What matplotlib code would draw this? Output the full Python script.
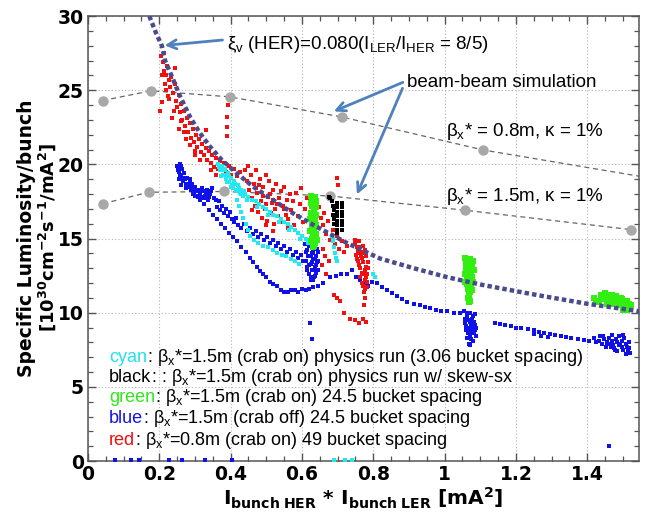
import numpy as np
import matplotlib
matplotlib.use("Agg")
import matplotlib.pyplot as plt
from matplotlib.ticker import MultipleLocator, FuncFormatter

plt.rcParams['mathtext.fontset'] = 'custom'
plt.rcParams['mathtext.rm'] = 'Liberation Sans'
plt.rcParams['mathtext.it'] = 'Liberation Sans'
plt.rcParams['mathtext.bf'] = 'DejaVu Sans:bold'

# beam-beam limit curve, xi_v(HER)=0.080
limit_x = [0.172, 0.19, 0.207, 0.216, 0.239, 0.258, 0.286, 0.314, 0.342, 0.375, 0.417,
           0.463, 0.519, 0.575, 0.633, 0.726, 0.819, 0.913, 1.006, 1.1, 1.2, 1.28, 1.4, 1.545]
limit_y = [30.0, 28.9, 28.0, 27.0, 25.7, 24.6, 23.2, 22.1, 21.2, 20.3, 19.4,
           18.5, 17.6, 16.7, 15.9, 14.7, 13.65, 13.0, 12.4, 11.9, 11.45, 11.1, 10.6, 10.1]

# beam-beam simulation
sim08_x = [0.041, 0.177, 0.398, 0.711, 1.108, 1.62]
sim08_y = [24.3, 24.96, 24.55, 23.2, 20.97, 18.9]
sim15_x = [0.042, 0.170, 0.380, 0.678, 1.056, 1.523]
sim15_y = [17.35, 18.12, 18.17, 17.87, 16.91, 15.6]

red_pts = [
    (0.205, 27.3), (0.210, 26.9), (0.214, 27.5), (0.212, 26.3), (0.218, 26.0), (0.222, 26.6),
    (0.226, 25.7), (0.216, 25.4), (0.230, 25.2), (0.234, 25.9), (0.238, 24.8), (0.224, 24.6),
    (0.244, 25.4), (0.246, 24.3), (0.250, 23.9), (0.254, 24.7), (0.258, 23.5), (0.262, 24.1),
    (0.265, 23.0), (0.270, 23.6), (0.272, 22.6), (0.278, 23.1), (0.281, 22.2), (0.286, 22.8),
    (0.290, 21.8), (0.294, 22.4), (0.298, 21.5), (0.303, 22.0), (0.307, 21.2), (0.312, 21.7),
    (0.316, 20.8), (0.320, 21.4), (0.325, 20.6), (0.330, 21.1), (0.334, 20.3), (0.339, 20.9),
    (0.344, 20.1), (0.349, 20.6), (0.354, 19.8), (0.359, 20.4), (0.364, 19.7), (0.370, 20.2),
    (0.376, 19.6), (0.382, 20.1), (0.388, 19.5), (0.395, 19.9), (0.402, 19.3), (0.410, 19.7),
    (0.418, 19.2), (0.426, 19.5),
    (0.208, 26.0), (0.219, 25.0), (0.228, 24.4), (0.240, 23.6), (0.260, 22.9), (0.268, 22.2),
    (0.276, 21.7), (0.285, 21.3), (0.300, 20.9), (0.315, 20.3), (0.345, 19.6), (0.360, 19.3),
    (0.203, 23.6), (0.207, 24.2), (0.236, 23.1), (0.255, 22.4), (0.390, 21.9), (0.391, 22.5),
    (0.390, 23.2), (0.392, 24.0), (0.300, 20.6), (0.245, 26.5), (0.330, 22.3),
    (0.440, 19.6), (0.445, 18.9), (0.450, 19.9), (0.452, 18.3), (0.458, 19.3), (0.460, 17.7),
    (0.465, 18.7), (0.468, 17.2), (0.472, 19.6), (0.475, 18.1), (0.478, 16.8), (0.482, 19.0),
    (0.485, 17.5), (0.488, 16.4), (0.492, 18.5), (0.495, 17.0), (0.498, 19.3), (0.502, 16.2),
    (0.505, 17.8), (0.508, 18.9), (0.512, 16.7), (0.515, 17.4), (0.518, 18.3), (0.522, 16.0),
    (0.525, 17.0), (0.528, 18.7), (0.532, 16.5), (0.535, 17.7), (0.540, 18.2), (0.543, 16.1),
    (0.546, 17.2), (0.550, 18.5), (0.554, 16.6), (0.558, 17.6), (0.562, 15.7), (0.566, 18.0),
    (0.570, 16.9), (0.574, 17.5), (0.578, 15.9), (0.584, 18.1), (0.588, 16.5), (0.594, 17.3),
    (0.598, 18.4), (0.603, 16.1), (0.608, 17.0), (0.614, 17.7), (0.619, 16.4), (0.625, 17.2),
    (0.470, 18.4), (0.490, 17.9), (0.510, 18.0), (0.520, 17.6), (0.530, 17.3), (0.550, 17.0),
    (0.480, 18.6), (0.500, 17.3), (0.560, 16.3), (0.460, 16.9), (0.500, 15.9), (0.520, 15.5),
    (0.648, 17.1), (0.652, 16.4), (0.658, 15.9), (0.663, 16.7), (0.668, 15.3), (0.673, 16.2),
    (0.679, 14.9), (0.686, 15.6), (0.692, 14.6), (0.699, 15.2), (0.705, 14.3), (0.712, 14.8),
    (0.719, 14.1), (0.726, 14.5), (0.697, 19.1), (0.701, 18.6), (0.660, 14.3), (0.665, 13.8),
    (0.676, 13.5), (0.655, 13.2), (0.668, 12.6),
    (0.748, 14.9), (0.754, 14.4), (0.760, 14.8), (0.766, 14.1), (0.772, 14.5), (0.779, 13.8),
    (0.786, 13.4), (0.751, 13.9), (0.758, 13.5), (0.764, 13.0), (0.770, 13.4), (0.776, 12.9),
    (0.783, 12.6), (0.762, 12.4), (0.769, 12.0), (0.776, 12.2), (0.781, 11.7), (0.774, 11.4),
    (0.778, 11.0), (0.775, 10.5), (0.757, 14.2), (0.768, 13.7), (0.780, 13.1),
    (0.750, 14.6), (0.756, 14.0), (0.763, 14.4), (0.770, 14.0), (0.777, 14.2), (0.784, 13.0),
    (0.753, 13.6), (0.761, 13.2), (0.767, 12.7), (0.773, 12.6), (0.779, 12.4), (0.771, 11.8),
    (0.777, 11.6), (0.765, 13.8), (0.782, 12.1),
    (0.690, 11.2), (0.698, 11.0), (0.706, 10.8), (0.717, 10.0), (0.735, 9.6), (0.748, 9.5),
    (0.760, 9.3), (0.772, 9.6), (0.779, 9.4),
]

blue_pts = [
    (0.250, 19.9), (0.254, 19.5), (0.258, 20.0), (0.260, 19.2), (0.264, 19.7), (0.267, 18.9),
    (0.270, 19.4), (0.274, 18.7), (0.278, 19.1), (0.281, 18.5), (0.285, 18.9), (0.289, 18.3),
    (0.293, 18.7), (0.297, 18.1), (0.301, 18.5), (0.306, 17.9), (0.311, 18.3), (0.316, 17.8),
    (0.322, 18.2), (0.328, 17.9), (0.334, 18.3), (0.340, 17.8), (0.346, 18.2), (0.352, 17.7),
    (0.256, 19.0), (0.262, 18.6),
    (0.252, 19.6), (0.257, 19.3), (0.262, 19.9), (0.266, 19.1), (0.272, 19.0), (0.276, 18.4),
    (0.283, 18.7), (0.287, 19.0), (0.291, 18.4), (0.295, 18.0), (0.299, 18.3), (0.304, 18.2),
    (0.309, 17.8), (0.314, 18.0), (0.319, 18.4), (0.325, 17.7), (0.331, 18.1), (0.337, 17.6),
    (0.343, 18.0), (0.349, 18.4),
    (0.358, 17.6), (0.362, 17.1), (0.366, 17.5), (0.370, 16.9), (0.375, 17.2), (0.380, 16.7),
    (0.386, 17.0), (0.392, 16.5), (0.398, 16.8), (0.404, 16.3), (0.410, 16.1), (0.416, 16.4),
    (0.422, 15.9), (0.430, 15.7), (0.438, 16.0), (0.446, 15.5), (0.454, 15.7), (0.462, 15.3),
    (0.470, 15.5), (0.478, 15.1), (0.486, 15.3), (0.494, 14.9), (0.502, 15.1), (0.510, 14.7),
    (0.518, 14.9), (0.526, 14.5), (0.534, 14.7), (0.542, 14.3), (0.550, 14.5), (0.558, 14.1),
    (0.566, 14.3), (0.574, 13.9), (0.582, 14.1), (0.590, 13.7), (0.598, 13.9), (0.604, 13.5),
    (0.609, 14.6), (0.615, 14.2), (0.621, 14.5), (0.627, 14.0), (0.633, 14.4), (0.640, 13.8),
    (0.645, 14.1), (0.612, 13.5), (0.618, 13.8), (0.624, 13.3), (0.630, 13.6), (0.636, 13.1),
    (0.642, 13.4), (0.615, 12.9), (0.621, 12.6), (0.627, 12.9), (0.633, 12.4), (0.639, 12.7),
    (0.645, 12.9), (0.626, 12.2),
    (0.612, 14.1), (0.618, 14.6), (0.624, 13.8), (0.630, 14.1), (0.636, 13.6), (0.642, 14.3),
    (0.613, 13.1), (0.619, 13.2), (0.627, 13.4), (0.633, 12.9), (0.639, 13.2), (0.645, 13.5),
    (0.624, 12.4), (0.630, 12.2), (0.636, 12.5),
    (0.300, 17.9), (0.314, 17.6), (0.326, 17.3), (0.338, 16.9), (0.350, 16.6), (0.361, 16.3),
    (0.372, 16.0), (0.384, 15.7), (0.396, 15.4), (0.407, 15.1), (0.418, 14.8), (0.430, 14.4),
    (0.442, 14.1), (0.454, 13.7), (0.464, 13.4), (0.474, 13.1), (0.483, 12.8), (0.491, 12.6),
    (0.500, 12.4), (0.510, 12.1), (0.520, 11.9), (0.529, 11.8), (0.540, 11.5), (0.550, 11.4),
    (0.560, 11.4), (0.570, 11.5), (0.580, 11.5), (0.590, 11.4), (0.600, 11.6), (0.610, 11.5),
    (0.620, 11.6), (0.632, 11.7), (0.645, 11.8), (0.660, 12.0), (0.679, 12.4), (0.695, 12.5),
    (0.710, 12.6), (0.726, 12.6), (0.740, 12.9), (0.752, 12.4), (0.763, 12.2), (0.775, 11.9),
    (0.785, 11.8), (0.797, 12.1), (0.810, 12.0), (0.824, 11.7), (0.838, 11.5), (0.852, 11.3),
    (0.866, 11.1), (0.880, 10.9), (0.895, 10.7), (0.913, 10.6), (0.930, 10.5), (0.946, 10.4),
    (0.960, 10.3), (0.975, 10.2), (0.990, 10.1), (1.007, 10.1), (1.025, 10.0), (1.044, 10.0),
    (1.055, 10.1), (1.062, 9.8), (1.070, 10.0), (1.078, 9.6), (1.085, 9.9), (1.058, 9.3),
    (1.066, 9.5), (1.074, 9.2), (1.082, 9.4), (1.089, 9.0), (1.060, 8.8), (1.068, 9.0),
    (1.076, 8.6), (1.084, 8.8), (1.064, 8.3), (1.072, 8.5), (1.080, 8.1), (1.069, 7.9),
    (1.087, 8.4),
    (1.057, 9.6), (1.063, 10.0), (1.072, 9.4), (1.080, 9.8), (1.086, 9.2), (1.061, 9.1),
    (1.070, 8.8), (1.078, 8.9), (1.066, 8.6), (1.074, 8.2), (1.083, 8.6), (1.071, 7.8),
    (1.140, 9.3), (1.155, 9.25), (1.170, 9.15), (1.187, 9.1), (1.200, 9.0), (1.215, 8.95),
    (1.233, 8.87), (1.250, 8.8), (1.265, 8.7), (1.280, 8.65), (1.295, 8.55), (1.310, 8.5),
    (1.327, 8.44), (1.340, 8.35), (1.355, 8.3), (1.373, 8.2), (1.390, 8.15), (1.405, 8.1),
    (1.250, 8.55), (1.270, 8.45), (1.290, 8.35),
    (1.420, 8.3), (1.432, 8.1), (1.444, 8.4), (1.456, 8.0), (1.468, 8.5), (1.480, 8.2),
    (1.492, 7.9), (1.504, 8.3), (1.516, 8.0), (1.440, 7.9), (1.452, 7.7), (1.464, 7.9),
    (1.476, 7.6), (1.488, 7.8), (1.500, 7.5), (1.512, 7.7), (1.520, 7.3), (1.508, 7.2),
    (1.470, 8.1), (1.496, 8.1), (1.484, 7.4),
    (1.425, 8.0), (1.436, 8.4), (1.448, 8.2), (1.460, 8.3), (1.472, 7.8), (1.484, 8.0),
    (1.496, 7.7), (1.508, 7.9), (1.518, 7.6), (1.490, 8.4), (1.455, 7.9), (1.478, 7.5),
    (1.514, 7.4), (1.500, 8.5), (1.466, 7.7),
    (0.623, 9.3), (0.628, 8.2), (1.460, 1.0),
    (0.076, 0.1), (0.120, 0.1), (0.143, 0.1), (0.227, 0.1), (0.264, 0.1), (0.329, 0.1), (0.404, 0.1),
]

cyan_pts = [
    (0.365, 20.0), (0.370, 19.6), (0.375, 19.9), (0.378, 19.3), (0.383, 19.7), (0.387, 19.0),
    (0.392, 19.4), (0.396, 18.8), (0.401, 19.1), (0.405, 18.6), (0.410, 18.9), (0.414, 18.3),
    (0.420, 18.6), (0.425, 18.1), (0.430, 18.3),
    (0.367, 19.8), (0.372, 19.2), (0.380, 19.6), (0.385, 19.3), (0.390, 18.8), (0.395, 19.2),
    (0.400, 18.5), (0.408, 18.4), (0.412, 18.7), (0.418, 18.2), (0.423, 18.4), (0.428, 18.0),
    (0.434, 17.9), (0.438, 18.2),
    (0.440, 18.0), (0.450, 17.8), (0.460, 17.6), (0.470, 17.5), (0.480, 17.3), (0.490, 17.1),
    (0.500, 17.0), (0.510, 16.8), (0.520, 16.6), (0.530, 16.5), (0.540, 16.3), (0.550, 16.1),
    (0.560, 16.0), (0.570, 15.8), (0.580, 15.6), (0.590, 15.4), (0.600, 15.2), (0.610, 15.0),
    (0.617, 14.7), (0.445, 17.6), (0.475, 17.1), (0.505, 16.6), (0.535, 16.1), (0.565, 15.6),
    (0.595, 15.0),
    (0.418, 17.6), (0.424, 17.2), (0.430, 16.8), (0.436, 16.4), (0.442, 16.0), (0.448, 15.6),
    (0.455, 15.2), (0.465, 14.9), (0.478, 14.7), (0.492, 14.5), (0.505, 14.4), (0.518, 14.2),
    (0.530, 14.0), (0.543, 13.9), (0.556, 13.8), (0.568, 13.6), (0.580, 13.5), (0.592, 13.3),
    (0.683, 15.2), (0.686, 14.8), (0.689, 14.4), (0.692, 14.0), (0.695, 13.7), (0.698, 13.5),
    (0.688, 15.0), (0.800, 12.6), (0.805, 12.4),
    (0.690, 0.1), (0.720, 0.1), (0.740, 0.1),
]

green_pts = [
    (0.625, 17.9), (0.632, 17.7), (0.638, 17.5), (0.628, 17.2), (0.635, 16.9), (0.630, 16.5),
    (0.637, 16.2), (0.627, 15.9), (0.634, 15.6), (0.640, 15.3), (0.629, 15.0), (0.636, 14.7),
    (0.632, 14.4), (0.626, 16.7), (0.639, 17.1), (0.633, 15.1),
    (0.624, 17.4), (0.631, 17.3), (0.637, 17.8), (0.640, 16.6), (0.628, 16.0), (0.634, 16.3),
    (0.622, 15.5), (0.638, 15.9), (0.630, 15.4), (0.626, 14.8), (0.641, 14.9), (0.635, 14.5),
    (0.629, 17.6), (0.623, 16.3), (0.633, 17.0),
    (1.058, 13.7), (1.065, 13.4), (1.072, 13.6), (1.060, 13.0), (1.068, 12.7), (1.076, 13.1),
    (1.062, 12.3), (1.070, 12.0), (1.078, 12.4), (1.066, 11.6), (1.074, 11.8), (1.068, 11.2),
    (1.072, 10.8), (1.082, 12.9), (1.056, 12.6),
    (1.061, 13.3), (1.069, 13.2), (1.079, 13.5), (1.057, 12.1), (1.064, 12.9), (1.073, 12.5),
    (1.080, 12.1), (1.063, 11.9), (1.071, 11.4), (1.077, 11.5), (1.066, 11.0), (1.069, 10.7),
    (1.420, 11.0), (1.432, 10.8), (1.445, 11.1), (1.458, 10.9), (1.470, 11.2), (1.482, 10.8),
    (1.494, 11.0), (1.505, 10.6), (1.515, 10.4), (1.470, 10.6), (1.490, 10.5), (1.500, 10.2),
    (1.510, 10.8), (1.455, 10.6), (1.480, 11.1),
    (1.425, 10.7), (1.440, 10.9), (1.450, 11.3), (1.462, 11.2), (1.475, 10.9), (1.487, 10.7),
    (1.498, 10.9), (1.506, 10.4), (1.518, 10.6), (1.465, 10.8), (1.438, 11.2), (1.512, 10.2),
    (1.522, 10.5),
]

black_pts = [
    (0.676, 17.8), (0.680, 17.7), (0.684, 17.5), (0.687, 17.2), (0.689, 16.9), (0.688, 16.6),
    (0.690, 16.3), (0.691, 16.0),
    (0.697, 17.4), (0.697, 17.1), (0.698, 16.8), (0.698, 16.5), (0.698, 16.2), (0.699, 15.9),
    (0.699, 15.6), (0.699, 15.4),
    (0.711, 17.4), (0.712, 17.1), (0.712, 16.8), (0.712, 16.5), (0.713, 16.2), (0.713, 15.9),
    (0.713, 15.6),
]

legend_rows = [
    ("cyan", "#22e0ee", r": β$_\mathrm{x}$*=1.5m (crab on) physics run (3.06 bucket spacing)"),
    ("black", "black", r": : β$_\mathrm{x}$*=1.5m (crab on) physics run w/ skew-sx"),
    ("green", "#2ee81a", r": β$_\mathrm{x}$*=1.5m (crab on) 24.5 bucket spacing"),
    ("blue", "#1414e6", r": β$_\mathrm{x}$*=1.5m (crab off) 24.5 bucket spacing"),
    ("red", "#ee1010", r": β$_\mathrm{x}$*=0.8m (crab on) 49 bucket spacing"),
]
legend_y = [6.70, 5.36, 4.01, 2.56, 1.10]

fig = plt.figure(figsize=(6.45, 5.17), dpi=100)
ax = fig.add_axes([0.1364, 0.1083, 0.8543, 0.8607])
ax.set_xlim(0, 1.545)
ax.set_ylim(0, 30)

ax.grid(which='major', color='#b5b5b5', linestyle=(0, (1, 2)), linewidth=0.8)
ax.set_axisbelow(True)

for x, y in zip([sim08_x, sim15_x], [sim08_y, sim15_y]):
    ax.plot(x, y, linestyle=(0, (4, 3)), color='#666666', linewidth=0.9,
            marker='o', markersize=6.5, markerfacecolor='#a8a8a8', markeredgecolor='#a8a8a8',
            zorder=2)

def cloud(pts, color, size=12):
    a = np.array(pts)
    ax.scatter(a[:, 0], a[:, 1], s=size, marker='s', color=color, linewidths=0, zorder=3)

cloud(blue_pts, '#1010e8')
cloud(red_pts, '#f01010')
cloud(cyan_pts, '#22e8f0')
cloud(green_pts, '#33ee11', 14)
cloud(black_pts, 'black', 7)

ax.plot(limit_x, limit_y, color='#4a4a8e', linewidth=3.2,
        linestyle=(0, (1.0, 0.7)), dash_capstyle='butt', zorder=4)

for side in ax.spines.values():
    side.set_color('#555555')
    side.set_linewidth(1.1)

ax.xaxis.set_major_locator(MultipleLocator(0.2))
ax.xaxis.set_minor_locator(MultipleLocator(0.05))
ax.yaxis.set_major_locator(MultipleLocator(5))
ax.yaxis.set_minor_locator(MultipleLocator(1))
ax.xaxis.set_major_formatter(FuncFormatter(lambda v, p: '%g' % round(v, 2)))
ax.tick_params(which='both', direction='in', top=True, right=True, color='#555555')
ax.tick_params(which='major', length=6, width=1.0, pad=3)
ax.tick_params(which='minor', length=3.5, width=0.9)
for lab in ax.get_xticklabels() + ax.get_yticklabels():
    lab.set_fontfamily('DejaVu Sans')
    lab.set_fontweight('bold')
    lab.set_fontsize(13.5)

ax.set_xlabel(r"I$_\mathbf{bunch\ HER}$ * I$_\mathbf{bunch\ LER}$ [mA$^\mathbf{2}$]",
              fontfamily='DejaVu Sans', fontweight='bold', fontsize=14.5, labelpad=1)
fig.text(0.041, 0.54, "Specific Luminosity/bunch", rotation=90, ha='center', va='center',
         fontfamily='DejaVu Sans', fontweight='bold', fontsize=13.5)
fig.text(0.073, 0.54, r"[10$^\mathbf{30}$cm$^\mathbf{-2}$s$^\mathbf{-1}$/mA$^\mathbf{2}$]",
         rotation=90, ha='center', va='center',
         fontfamily='DejaVu Sans', fontweight='bold', fontsize=13)

txt = dict(fontfamily='Liberation Sans', fontsize=13.5)
arrow = dict(arrowstyle='->', color='#4f81bd', lw=2, mutation_scale=16)
ax.text(0.39, 28.1, r"$\xi_\mathrm{v}$ (HER)=0.080(I$_\mathrm{LER}$/I$_\mathrm{HER}$ = 8/5)",
        va='center', ha='left', **txt)
ax.annotate('', xy=(0.207, 28.0), xytext=(0.385, 28.4), arrowprops=arrow)
ax.text(0.895, 25.5, "beam-beam simulation", va='center', ha='left', **txt)
ax.annotate('', xy=(0.682, 23.5), xytext=(0.89, 25.6), arrowprops=arrow)
ax.annotate('', xy=(0.751, 17.8), xytext=(0.885, 25.3), arrowprops=arrow)
ax.text(1.003, 22.2, r"β$_\mathrm{x}$* = 0.8m, κ = 1%", va='center', ha='left', **txt)
ax.text(1.003, 17.8, r"β$_\mathrm{x}$* = 1.5m, κ = 1%", va='center', ha='left', **txt)

leg = dict(fontfamily='Liberation Sans', fontsize=13)
fig.canvas.draw()
inv = ax.transData.inverted()
for (name, color, rest), y in zip(legend_rows, legend_y):
    t = ax.text(0.059, y, name, color=color, va='baseline', ha='left', **leg)
    bb = t.get_window_extent()
    x1 = inv.transform((bb.x1, bb.y0))[0]
    ax.text(x1, y, rest, color='black', va='baseline', ha='left', **leg)

fig.savefig('out.png', dpi=100)
